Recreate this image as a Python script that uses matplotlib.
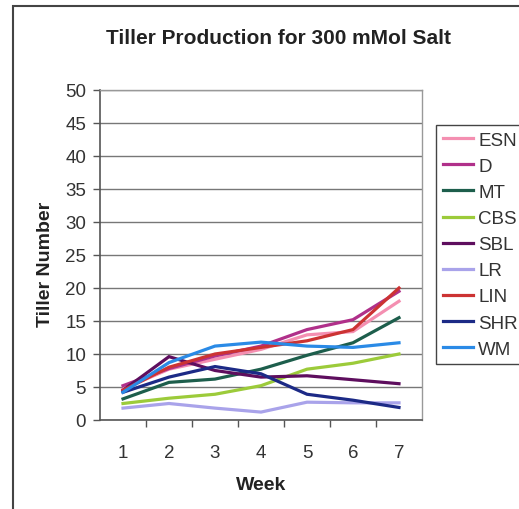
import matplotlib
matplotlib.use("Agg")
import matplotlib.pyplot as plt
from matplotlib.patches import Rectangle

plt.rcParams['font.family'] = ['Liberation Sans', 'DejaVu Sans']

weeks = [1, 2, 3, 4, 5, 6, 7]

esn = [4.7, 7.7, 9.2, 10.7, 12.9, 13.4, 18.0]
d = [5.2, 7.8, 9.7, 11.2, 13.7, 15.2, 19.5]
mt = [3.2, 5.7, 6.2, 7.7, 9.8, 11.7, 15.5]
cbs = [2.5, 3.3, 3.9, 5.2, 7.7, 8.6, 10.0]
sbl = [4.5, 9.6, 7.5, 6.5, 6.7, 6.1, 5.5]
lr = [1.8, 2.5, 1.8, 1.2, 2.7, 2.6, 2.6]
lin = [4.5, 8.0, 10.0, 11.0, 12.0, 13.7, 20.0]
shr = [4.2, 6.5, 8.1, 7.0, 3.9, 3.0, 1.9]
wm = [4.2, 8.7, 11.2, 11.8, 11.2, 11.0, 11.7]

series = [
    ("ESN", esn, "#f48fb1"),
    ("D", d, "#b0308a"),
    ("MT", mt, "#1d5e4c"),
    ("CBS", cbs, "#9ccb3a"),
    ("SBL", sbl, "#5e0e5e"),
    ("LR", lr, "#a9a3ea"),
    ("LIN", lin, "#cc3333"),
    ("SHR", shr, "#1c2a86"),
    ("WM", wm, "#2a8ae6"),
]

fig = plt.figure(figsize=(5.19, 5.10), dpi=100)
ax = fig.add_axes([100 / 519, 1 - 421 / 510, 322 / 519, 330 / 510])

for name, vals, col in series:
    ax.plot(weeks, vals, color=col, lw=2.3, label=name, solid_joinstyle='miter')

ax.set_xlim(0.5, 7.5)
ax.set_ylim(0, 50)
ax.set_yticks(range(0, 51, 5))
ax.set_xticks(weeks)
ax.set_xticks([w + 0.5 for w in weeks[:-1]], minor=True)
ax.tick_params(axis='x', which='major', length=0, pad=17, labelsize=13.5, labelcolor='#333333')
ax.tick_params(axis='x', which='minor', length=5, width=1, color='#555555', direction='out')
ax.tick_params(axis='y', length=5, width=1, color='#555555', pad=5, labelsize=13.5, labelcolor='#333333')
ax.yaxis.grid(True, color='#777777', lw=1)
ax.set_axisbelow(True)

for side in ['top', 'right']:
    ax.spines[side].set_color('#999999')
    ax.spines[side].set_linewidth(1)
for side in ['left', 'bottom']:
    ax.spines[side].set_color('#555555')
    ax.spines[side].set_linewidth(1.2)

fig.text(278 / 519, 1 - 38 / 510, "Tiller Production for 300 mMol Salt",
         ha='center', va='center', fontsize=15, fontweight='bold', color='#222222')
fig.text(45 / 519, 1 - 264 / 510, "Tiller Number", rotation=90,
         ha='center', va='center', fontsize=14, fontweight='bold', color='#222222')
fig.text(261 / 519, 1 - 486 / 510, "Week",
         ha='center', va='center', fontsize=14, fontweight='bold', color='#222222')

leg = ax.legend(loc='upper left', bbox_to_anchor=(436 / 519, 1 - 126 / 510),
                bbox_transform=fig.transFigure, borderaxespad=0, fontsize=13.5,
                handlelength=1.6, handletextpad=0.3, labelspacing=0.48,
                borderpad=0.35, fancybox=False, framealpha=1)
leg.get_frame().set_edgecolor('#444444')
leg.get_frame().set_linewidth(1)
for t in leg.get_texts():
    t.set_color('#333333')

# outer chart border, running off the right and bottom edges
fig.patches.append(Rectangle((13 / 519, -0.1), 1.0, 1 - 7 / 510 + 0.1,
                             transform=fig.transFigure, fill=False,
                             edgecolor='#444444', lw=1.5))

fig.savefig("out.png", dpi=100)
